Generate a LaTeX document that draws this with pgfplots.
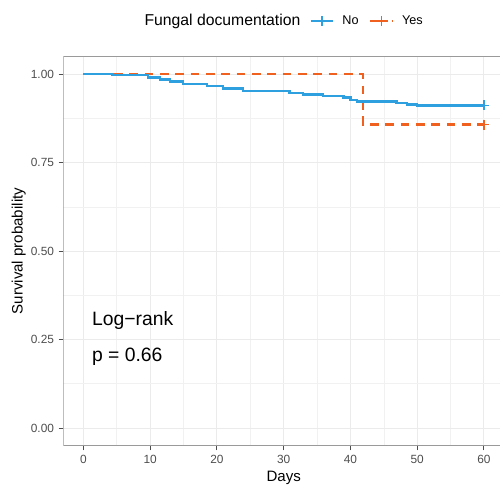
\documentclass[border=0pt]{standalone}
\usepackage{pgfplots}
\pgfplotsset{compat=1.18}
\usepackage{fontspec}
\setmainfont{Liberation Sans}
\definecolor{cno}{HTML}{2E9FDF}
\definecolor{cyes}{HTML}{F0601E}
\definecolor{gridc}{HTML}{EBEBEB}
\definecolor{txt}{HTML}{4D4D4D}
\definecolor{frame}{HTML}{9A9A9A}

\begin{document}
\begin{tikzpicture}[x=1pt,y=1pt]
\begin{axis}[
  at={(47.5pt,30.2pt)}, anchor=south west,
  scale only axis, width=330.5pt, height=292pt,
  xmin=-3, xmax=63, ymin=-0.05, ymax=1.05,
  xtick={0,10,...,60}, ytick={0,0.25,0.5,0.75,1},
  minor xtick={5,15,...,55}, minor ytick={0.125,0.375,0.625,0.875},
  yticklabel style={/pgf/number format/.cd, fixed, fixed zerofill, precision=2},
  /pgf/number format/assume math mode=true,
  grid=both,
  major grid style={gridc, line width=0.8pt},
  minor grid style={gridc!70, line width=0.45pt},
  separate axis lines,
  axis line style={draw=none},
  every outer x axis line/.append style={draw=none},
  every outer y axis line/.append style={draw=none},
  tick pos=left, tick align=outside,
  major tick length=3.5pt, minor tick length=0pt,
  major tick style={txt, line width=0.7pt},
  ticklabel style={font=\fontsize{8.9}{10}\selectfont, text=txt},
  xlabel={Days}, ylabel={Survival probability},
  label style={font=\fontsize{11.3}{13}\selectfont},
  xlabel style={yshift=1.5pt},
  ylabel style={yshift=-3pt},
  legend columns=-1,
  legend style={draw=none, fill=none, at={(axis description cs:0.5,1)}, anchor=center, yshift=26.5pt,
    font=\fontsize{9.5}{11}\selectfont},
  legend cell align=left,
]
\addlegendimage{empty legend}
\addlegendentry{\fontsize{11.8}{14}\selectfont Fungal documentation\kern5pt}
\addlegendimage{cno, line width=1.5pt, mark=+, mark size=3.5pt, mark options={solid, line width=1pt}}
\addlegendentry{\kern4pt No\kern6pt}
\addlegendimage{cyes, line width=1.5pt, dash pattern=on 5pt off 3pt, mark=+, mark size=3.5pt, mark options={solid, line width=1pt}}
\addlegendentry{\kern4pt Yes}

\addplot[const plot, cyes, line width=1.9pt, dash pattern=on 6.5pt off 5pt, forget plot] coordinates {
(0,1.000) (41.9,0.857) (60,0.857)
};
\addplot[const plot, cno, line width=1.9pt, forget plot] coordinates {
(0,1.000) (4.4,0.997) (9.7,0.991) (11.5,0.985) (13,0.979) (14.9,0.972)
(18.5,0.966) (20.9,0.960) (23.9,0.952) (30.9,0.946) (32.9,0.942)
(35.9,0.938) (39.0,0.934) (40,0.927) (41,0.922) (46.9,0.918)
(48.5,0.914) (50,0.912) (60,0.912)
};
\addplot[only marks, cno, mark=+, mark size=3.8pt, mark options={line width=1.1pt}, forget plot] coordinates {(60,0.912)};
\addplot[only marks, cyes, mark=+, mark size=3.8pt, mark options={line width=1.1pt}, forget plot] coordinates {(60,0.857)};

\draw[frame, line width=0.7pt] (rel axis cs:1,1) -- (rel axis cs:0,1) -- (rel axis cs:0,0) -- (rel axis cs:1,0);

\node[anchor=west, font=\fontsize{14.5}{16}\selectfont] at (axis cs:0.6,0.303) {Log−rank};
\node[anchor=west, font=\fontsize{14.5}{16}\selectfont] at (axis cs:0.6,0.200) {p = 0.66};
\end{axis}
\pgfresetboundingbox
\useasboundingbox (0,0) rectangle (375,364.5);
\end{tikzpicture}
\end{document}
